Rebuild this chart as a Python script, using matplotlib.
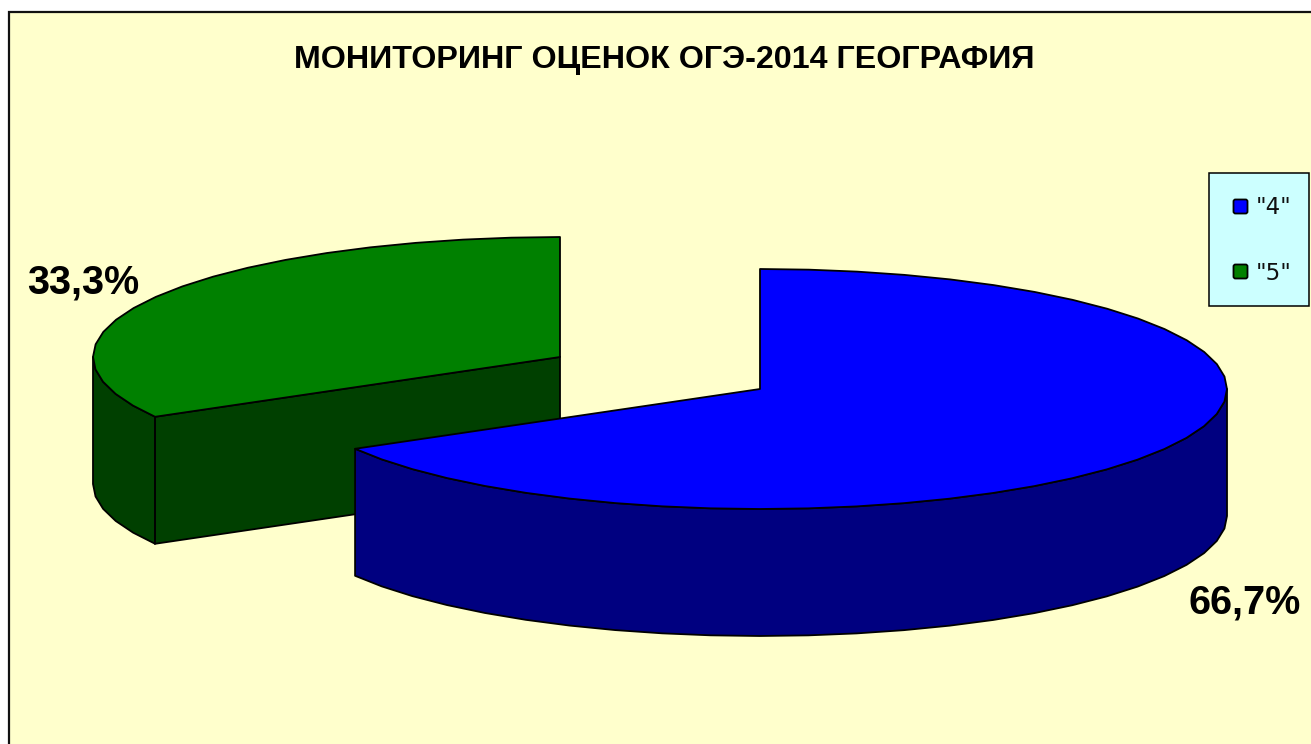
import matplotlib
matplotlib.use('Agg')
import matplotlib.pyplot as plt
from matplotlib.patches import Polygon, Rectangle, FancyBboxPatch
import numpy as np

title = 'МОНИТОРИНГ ОЦЕНОК ОГЭ-2014 ГЕОГРАФИЯ'
categories = ['"4"', '"5"']
values = [66.7, 33.3]
top_colors = ['#0000ff', '#008000']
side_colors = ['#000080', '#004000']


def arc(cx, cy, t0, t1, drop=0, rx=467, ry=120):
    # the original rim is made of short straight pieces, about 6 degrees each
    n = max(int(round(abs(t1 - t0) / 6)), 1) + 1
    t = np.radians(np.linspace(t0, t1, n))
    return np.column_stack([cx + rx * np.sin(t), cy - ry * np.cos(t) + drop])


def draw_slice(ax, cx, cy, t0, t1, top, side, depth=127):
    # outer wall, only the part that faces the viewer
    a = max(t0, 90)
    b = min(t1, 270)
    if a < b:
        wall = np.vstack([arc(cx, cy, a, b), arc(cx, cy, b, a, depth)])
        ax.add_patch(Polygon(wall, fc=side, ec='black', lw=1.3, joinstyle='round'))
    # cut face goes down from the rim towards the centre
    if 180 < t0 < 360:
        p = arc(cx, cy, t0, t0)[0]
        face = [(cx, cy), p, (p[0], p[1] + depth), (cx, cy + depth)]
        ax.add_patch(Polygon(face, fc=side, ec='black', lw=1.3))
    pts = np.vstack([[(cx, cy)], arc(cx, cy, t0, t1)])
    ax.add_patch(Polygon(pts, fc=top, ec='black', lw=1.3, joinstyle='round'))


fig = plt.figure(figsize=(13.11, 7.44), dpi=100, facecolor='white')
ax = fig.add_axes([0, 0, 1, 1])
ax.set_xlim(0, 1311)
ax.set_ylim(744, 0)
ax.axis('off')

ax.add_patch(Rectangle((8.5, 11.5), 1320, 750, fc='#ffffcc', ec='#111111', lw=1.6))

ends = np.cumsum(values) / sum(values) * 360
starts = ends - ends[0]
starts[1] = ends[0]

# green one is behind, blue goes over it
draw_slice(ax, 560, 357, starts[1], ends[1], top_colors[1], side_colors[1])
draw_slice(ax, 760, 389, starts[0], ends[0], top_colors[0], side_colors[0])

ax.text(664, 68, title, fontsize=23.2, fontweight='bold', family='Liberation Sans',
        ha='center', va='baseline', color='black')
ax.text(1189, 613, f'{values[0]:.1f}%'.replace('.', ','), fontsize=28.5, fontweight='bold',
        family='Liberation Sans', ha='left', va='baseline')
ax.text(27, 294, f'{values[1]:.1f}%'.replace('.', ','), fontsize=28.5, fontweight='bold',
        family='Liberation Sans', ha='left', va='baseline')

ax.add_patch(Rectangle((1208.5, 172.5), 100, 133, fc='#ccffff', ec='black', lw=1.1))
for i, name in enumerate(categories):
    y = 206.5 + i * 65
    ax.add_patch(FancyBboxPatch((1233.5, y - 7), 14, 14, boxstyle='round,pad=0,rounding_size=2',
                                fc=top_colors[i], ec='black', lw=1.3))
    ax.text(1256, y + 8, name, fontsize=16.5, family='DejaVu Sans', ha='left', va='baseline',
            color='#111111')

fig.savefig('out.png', dpi=100, facecolor='white')
